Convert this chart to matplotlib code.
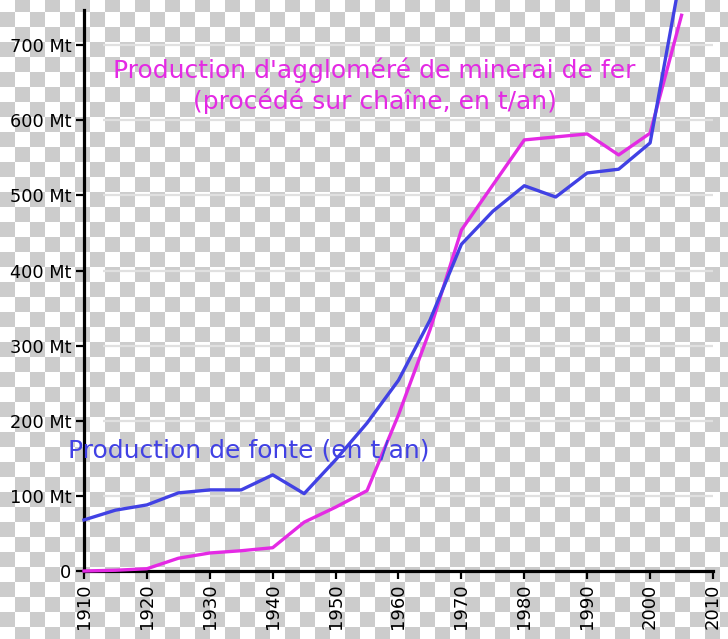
import numpy as np
import matplotlib
matplotlib.use("Agg")
import matplotlib.pyplot as plt

# données
years = [1910, 1915, 1920, 1925, 1930, 1935, 1940, 1945, 1950, 1955,
         1960, 1965, 1970, 1975, 1980, 1985, 1990, 1995, 2000, 2005]
fonte = [68, 81, 88, 104, 108, 108, 128, 103, 148, 197,
         254, 334, 435, 479, 513, 498, 530, 535, 570, 800]
agglomere = [0, 1, 3, 17, 24, 27, 31, 65, 85, 107,
             208, 321, 454, 514, 574, 578, 582, 554, 583, 740]

y_ticks = [0, 100, 200, 300, 400, 500, 600, 700]
y_labels = ["0", "100 Mt", "200 Mt", "300 Mt", "400 Mt", "500 Mt", "600 Mt", "700 Mt"]
x_ticks = [1910, 1920, 1930, 1940, 1950, 1960, 1970, 1980, 1990, 2000, 2010]

W, H = 728, 639
BLUE = "#4141e4"
MAGENTA = "#e42ae4"


def checkerboard(w, h, size=15, y0=12):
    """fond en damier (transparence)"""
    xx, yy = np.meshgrid(np.arange(w), np.arange(h))
    cols = xx // size
    rows = (yy - y0) // size
    gray = ((cols + rows) % 2 == 0)
    img = np.ones((h, w, 3))
    img[gray] = 0.8
    return img


fig = plt.figure(figsize=(W / 100, H / 100), dpi=100)
fig.figimage(checkerboard(W, H), xo=0, yo=0, origin="upper", zorder=-1)

ax = fig.add_axes([84 / W, 68 / H, 629 / W, 561 / H])
ax.set_facecolor("none")
ax.set_xlim(1910, 2010)
ax.set_ylim(0, 747)

# lignes horizontales claires
ax.hlines(y_ticks[1:], 1913, 2010, colors="#e0e0e0", linewidth=1.6, zorder=1)

ax.plot(years, agglomere, color=MAGENTA, linewidth=2.4, clip_on=False, zorder=3)
ax.plot(years, fonte, color=BLUE, linewidth=2.4, clip_on=False, zorder=4)

ax.text(1956.2, 646, "Production d'aggloméré de minerai de fer\n(procédé sur chaîne, en t/an)",
        color=MAGENTA, fontsize=18, ha="center", va="center", linespacing=1.25)
ax.text(1936.2, 160, "Production de fonte (en t/an)",
        color=BLUE, fontsize=18, ha="center", va="center")

for side in ["top", "right"]:
    ax.spines[side].set_visible(False)
for side in ["left", "bottom"]:
    ax.spines[side].set_linewidth(2.3)
    ax.spines[side].set_color("black")

ax.set_yticks(y_ticks)
ax.set_yticklabels(y_labels)
ax.set_xticks(x_ticks)
ax.set_xticklabels([str(x) for x in x_ticks], rotation=90)
ax.tick_params(axis="y", direction="out", length=6, width=1.6, pad=3, labelsize=12.8)
ax.tick_params(axis="x", direction="out", length=6, width=1.6, pad=3, labelsize=13)

fig.savefig("out.png", dpi=100)
